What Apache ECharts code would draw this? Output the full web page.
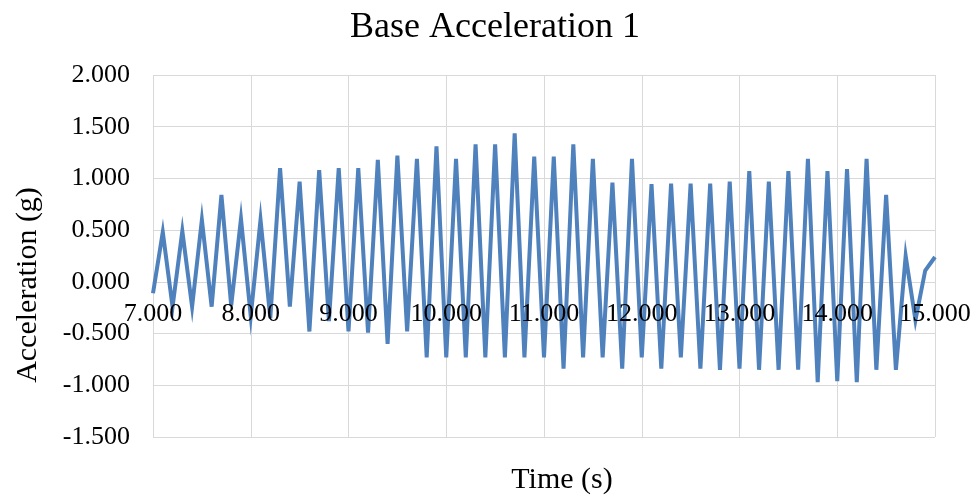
<!DOCTYPE html>
<html>
<head>
<meta charset="utf-8">
<title>Base Acceleration 1</title>
<script src="https://cdn.jsdelivr.net/npm/echarts@6/dist/echarts.min.js"></script>
<style>
  html, body { margin: 0; padding: 0; background: #ffffff; }
  #chart { width: 975px; height: 500px; }
</style>
</head>
<body>
<div id="chart"></div>
<script>
// Sample times (s)
const times = [
  7.0, 7.1, 7.2, 7.3, 7.4, 7.5, 7.6, 7.7, 7.8, 7.9,
  8.0, 8.1, 8.2, 8.3, 8.4, 8.5, 8.6, 8.7, 8.8, 8.9,
  9.0, 9.1, 9.2, 9.3, 9.4, 9.5, 9.6, 9.7, 9.8, 9.9,
  10.0, 10.1, 10.2, 10.3, 10.4, 10.5, 10.6, 10.7, 10.8, 10.9,
  11.0, 11.1, 11.2, 11.3, 11.4, 11.5, 11.6, 11.7, 11.8, 11.9,
  12.0, 12.1, 12.2, 12.3, 12.4, 12.5, 12.6, 12.7, 12.8, 12.9,
  13.0, 13.1, 13.2, 13.3, 13.4, 13.5, 13.6, 13.7, 13.8, 13.9,
  14.0, 14.1, 14.2, 14.3, 14.4, 14.5, 14.6, 14.7, 14.8, 14.9,
  15.0
];

// Base acceleration (g)
const accel = [
  -0.11, 0.48, -0.24, 0.49, -0.24, 0.60, -0.24, 0.84, -0.23, 0.61,
  -0.33, 0.60, -0.35, 1.10, -0.24, 0.97, -0.48, 1.08, -0.38, 1.10,
  -0.48, 1.10, -0.49, 1.18, -0.60, 1.22, -0.48, 1.19, -0.73, 1.31,
  -0.73, 1.19, -0.73, 1.33, -0.73, 1.33, -0.73, 1.435, -0.73, 1.21,
  -0.73, 1.21, -0.84, 1.33, -0.73, 1.19, -0.73, 0.96, -0.84, 1.19,
  -0.73, 0.945, -0.84, 0.95, -0.73, 0.95, -0.84, 0.95, -0.85, 0.97,
  -0.84, 1.07, -0.85, 0.97, -0.85, 1.07, -0.85, 1.19, -0.97, 1.07,
  -0.96, 1.09, -0.97, 1.19, -0.85, 0.84, -0.85, 0.25, -0.37, 0.11,
  0.24
];

const chartTitle = 'Base Acceleration 1';
const xTitle = 'Time (s)';
const yTitle = 'Acceleration (g)';

const serif = '"Liberation Serif", "Times New Roman", serif';
const gridColor = '#d9d9d9';
const gridBottom = 63;

const timeScale = { type: 'value', min: 7, max: 15, interval: 1, position: 'bottom' };

const chart = echarts.init(document.getElementById('chart'), null, { renderer: 'canvas' });

chart.setOption({
  backgroundColor: '#ffffff',
  animation: false,
  title: {
    text: chartTitle,
    left: 490,
    top: 5,
    textAlign: 'center',
    textStyle: { fontFamily: serif, fontSize: 36, fontWeight: 'normal', color: '#000000' }
  },
  grid: { left: 153, right: 40, top: 75, bottom: gridBottom, containLabel: false },
  xAxis: [
    // gridlines behind the trace
    Object.assign({}, timeScale, {
      z: 0,
      axisLine: { show: true, onZero: true, lineStyle: { color: gridColor, width: 1 } },
      axisTick: { show: false },
      axisLabel: { show: false },
      splitLine: { show: true, lineStyle: { color: gridColor, width: 1 } }
    }),
    // tick labels drawn in front of the trace, along the zero line
    Object.assign({}, timeScale, {
      z: 10,
      offset: 0,
      axisLine: { show: false, onZero: false },
      axisTick: { show: false },
      splitLine: { show: false },
      axisLabel: {
        margin: 19,
        fontFamily: serif,
        fontSize: 26,
        color: '#000000',
        formatter: v => v.toFixed(3)
      }
    })
  ],
  yAxis: {
    type: 'value',
    min: -1.5,
    max: 2,
    interval: 0.5,
    axisLine: { show: false },
    axisTick: { show: false },
    axisLabel: {
      margin: 23,
      fontFamily: serif,
      fontSize: 26,
      color: '#000000',
      formatter: v => v.toFixed(3)
    },
    splitLine: { show: true, lineStyle: { color: gridColor, width: 1 } }
  },
  graphic: [
    {
      type: 'text',
      x: 562,
      y: 480,
      style: {
        text: xTitle,
        font: '30px ' + serif,
        fill: '#000000',
        textAlign: 'center',
        textVerticalAlign: 'middle'
      }
    },
    {
      type: 'text',
      x: 28,
      y: 285,
      rotation: Math.PI / 2,
      style: {
        text: yTitle,
        font: '30px ' + serif,
        fill: '#000000',
        textAlign: 'center',
        textVerticalAlign: 'middle'
      }
    }
  ],
  series: [
    {
      type: 'line',
      xAxisIndex: 0,
      z: 2,
      data: times.map((t, i) => [t, accel[i]]),
      showSymbol: false,
      symbol: 'none',
      smooth: false,
      clip: true,
      lineStyle: { color: '#4f81bd', width: 4, join: 'miter' },
      itemStyle: { color: '#4f81bd' }
    }
  ]
});

// Move the tick labels up so they sit just under the zero line
const zeroY = chart.convertToPixel({ yAxisIndex: 0 }, 0);
const bottomY = chart.getHeight() - gridBottom;
chart.setOption({ xAxis: [{}, { offset: zeroY - bottomY }] });
</script>
</body>
</html>
